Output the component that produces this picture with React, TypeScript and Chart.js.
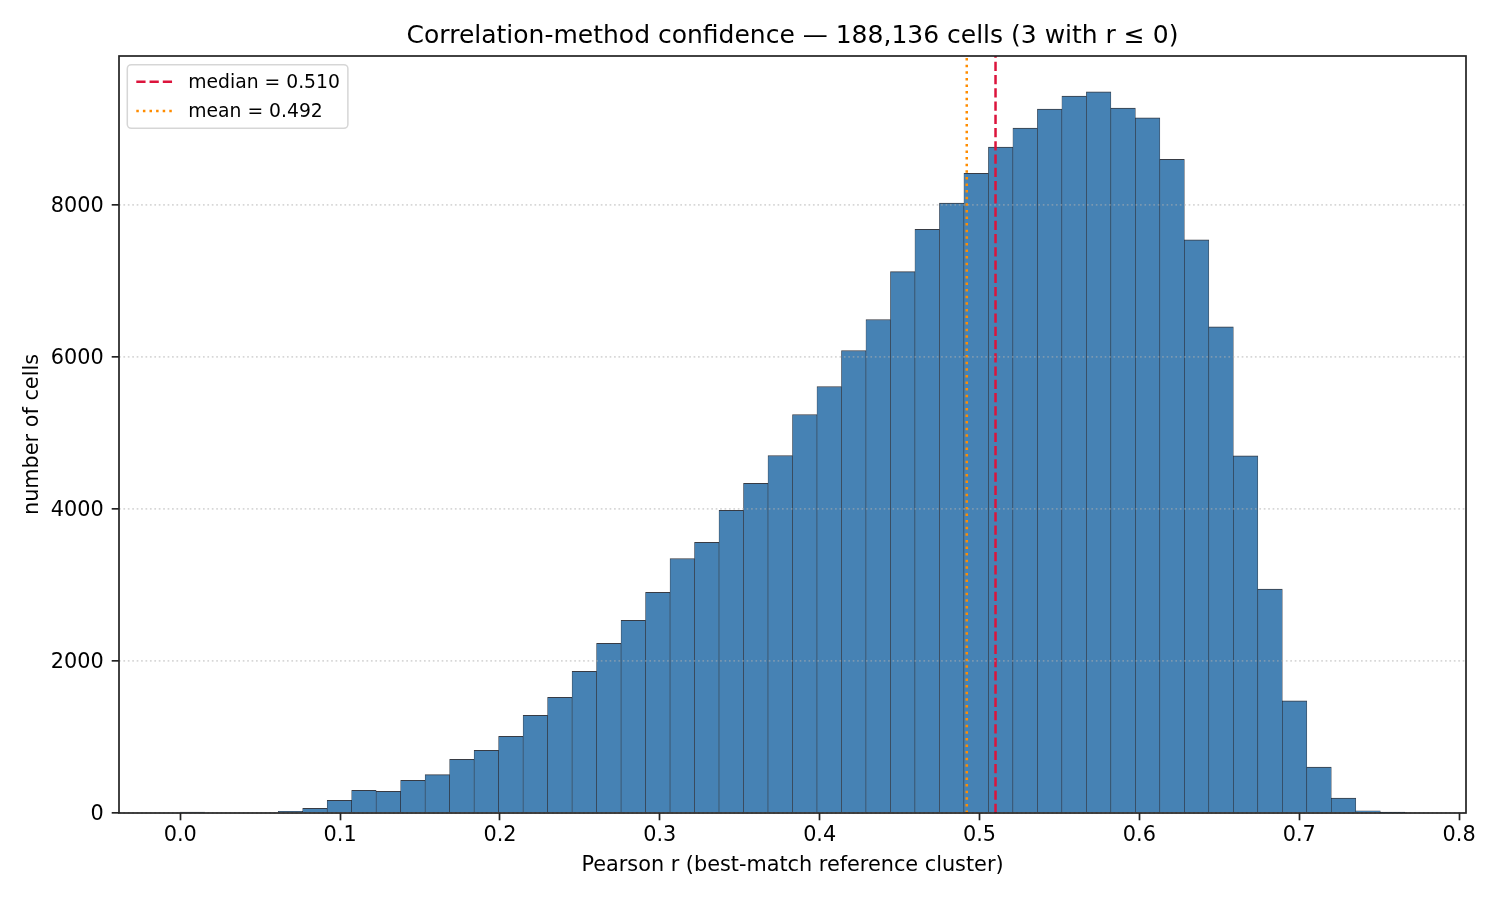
import { useEffect, useRef } from "react";
import { Chart, registerables } from "chart.js";

Chart.register(...registerables);

const TITLE = "Correlation-method confidence — 188,136 cells (3 with r ≤ 0)";
const X_LABEL = "Pearson r (best-match reference cluster)";
const Y_LABEL = "number of cells";

// histogram: 50 equal bins starting at r = 0
const BIN_START = 0.0;
const BIN_WIDTH = 0.01532;
const binCounts = [
  7, 0, 0, 0, 22, 61, 167, 298, 285, 430,
  504, 706, 825, 1009, 1285, 1521, 1863, 2232, 2534, 2902,
  3349, 3560, 3981, 4336, 4704, 5243, 5611, 6085, 6493, 7124,
  7680, 8026, 8417, 8763, 9013, 9263, 9434, 9487, 9276, 9145,
  8601, 7540, 6398, 4700, 2946, 1476, 604, 195, 30, 5,
];

const medianR = 0.51;
const meanR = 0.492;

const xTicks = [0, 0.1, 0.2, 0.3, 0.4, 0.5, 0.6, 0.7, 0.8];
const yTicks = [0, 2000, 4000, 6000, 8000];
const X_MIN = -0.0383;
const X_MAX = 0.8043;
const Y_MAX = 9960;

const FONT = "'DejaVu Sans', sans-serif";
const DASHED = [9.25, 4];
const DOTTED = [2.5, 4.1];

// matplotlib-like frame, title over the axes, legend inside the axes
const axesDecor = {
  id: "axesDecor",
  afterDraw(chart: any) {
    const { ctx, chartArea: a } = chart;
    ctx.save();
    ctx.strokeStyle = "#222";
    ctx.lineWidth = 1.7;
    ctx.setLineDash([]);
    ctx.strokeRect(a.left, a.top, a.right - a.left, a.bottom - a.top);

    ctx.fillStyle = "#000";
    ctx.font = `25px ${FONT}`;
    ctx.textAlign = "center";
    ctx.textBaseline = "alphabetic";
    ctx.fillText(TITLE, (a.left + a.right) / 2, 42.5);

    const items = chart.data.datasets.filter((d: any) => d.type === "line");
    ctx.font = `18.75px ${FONT}`;
    const textW = Math.max(...items.map((d: any) => ctx.measureText(d.label).width));
    const x0 = a.left + 8.3;
    const y0 = a.top + 8.7;
    const w = 61 + textW + 8;
    const h = 63.6;
    ctx.fillStyle = "rgba(255,255,255,0.8)";
    ctx.strokeStyle = "rgba(204,204,204,0.8)";
    ctx.lineWidth = 1.5;
    ctx.beginPath();
    ctx.roundRect(x0, y0, w, h, 4);
    ctx.fill();
    ctx.stroke();
    items.forEach((d: any, i: number) => {
      const y = y0 + 17 + i * 29.4;
      ctx.setLineDash(d.borderDash);
      ctx.strokeStyle = d.borderColor;
      ctx.lineWidth = d.borderWidth;
      ctx.beginPath();
      ctx.moveTo(x0 + 9, y);
      ctx.lineTo(x0 + 45, y);
      ctx.stroke();
      ctx.setLineDash([]);
      ctx.fillStyle = "#000";
      ctx.textBaseline = "alphabetic";
      ctx.textAlign = "left";
      ctx.fillText(d.label, x0 + 61, y + 5.8);
    });
    ctx.restore();
  },
};

export default function App() {
  const canvasRef = useRef<HTMLCanvasElement>(null);

  useEffect(() => {
    if (!canvasRef.current) return;
    const ctx = canvasRef.current.getContext("2d");
    if (!ctx) return;

    const hist = binCounts.map((c, i) => ({ x: BIN_START + (i + 0.5) * BIN_WIDTH, y: c }));

    const chart = new Chart(ctx, {
      type: "bar",
      data: {
        datasets: [
          {
            type: "bar",
            label: "cells",
            data: hist,
            backgroundColor: "#4682b4",
            borderColor: "rgba(20,25,35,0.85)",
            borderWidth: { top: 1, left: 0.6, right: 0.6, bottom: 0 },
            borderSkipped: false,
            barPercentage: 1,
            categoryPercentage: 1,
            order: 2,
          },
          {
            type: "line",
            label: `median = ${medianR.toFixed(3)}`,
            data: [{ x: medianR, y: 0 }, { x: medianR, y: Y_MAX }],
            borderColor: "#dc143c",
            borderWidth: 2.5,
            borderDash: DASHED,
            pointRadius: 0,
            fill: false,
            order: 1,
          },
          {
            type: "line",
            label: `mean = ${meanR.toFixed(3)}`,
            data: [{ x: meanR, y: 0 }, { x: meanR, y: Y_MAX }],
            borderColor: "#ff8c00",
            borderWidth: 2.5,
            borderDash: DOTTED,
            pointRadius: 0,
            fill: false,
            order: 0,
          },
        ],
      } as any,
      options: {
        animation: false,
        responsive: false,
        devicePixelRatio: 1,
        layout: { padding: { left: 0, right: 34, top: 56, bottom: 0 } },
        plugins: {
          legend: { display: false },
          tooltip: { enabled: false },
          title: { display: false },
        },
        scales: {
          x: {
            type: "linear",
            min: X_MIN,
            max: X_MAX,
            offset: false,
            afterBuildTicks: (scale: any) => {
              scale.ticks = xTicks.map((v) => ({ value: v }));
            },
            afterFit: (scale: any) => {
              scale.height = 87;
            },
            ticks: {
              color: "#000",
              font: { family: FONT, size: 20.8, lineHeight: 1.2 },
              padding: 3,
              maxRotation: 0,
              autoSkip: false,
              callback: (v: any) => Number(v).toFixed(1),
            },
            grid: {
              offset: false,
              drawOnChartArea: false,
              drawTicks: true,
              tickLength: 7.3,
              tickWidth: 1.7,
              tickColor: "#222",
            },
            border: { display: false },
            title: {
              display: true,
              text: X_LABEL,
              color: "#000",
              font: { family: FONT, size: 20.8, lineHeight: 1.2 },
              padding: { top: 0, bottom: 22 },
            },
          },
          y: {
            type: "linear",
            min: 0,
            max: Y_MAX,
            afterBuildTicks: (scale: any) => {
              scale.ticks = yTicks.map((v) => ({ value: v }));
            },
            afterFit: (scale: any) => {
              scale.width = 119;
            },
            ticks: {
              color: "#000",
              font: { family: FONT, size: 20.8, lineHeight: 1.2 },
              padding: 8,
              labelOffset: 2,
              autoSkip: false,
              callback: (v: any) => String(v),
            },
            grid: {
              z: 1,
              color: "rgba(176,176,176,0.5)",
              lineWidth: 1.67,
              drawTicks: true,
              tickLength: 7.3,
              tickWidth: 1.7,
              tickColor: "#222",
              tickBorderDash: [],
            },
            border: { display: false, dash: [1.67, 2.75] },
            title: {
              display: true,
              text: Y_LABEL,
              color: "#000",
              font: { family: FONT, size: 20.8, lineHeight: 1.2 },
              padding: { top: 20.5, bottom: 0 },
            },
          },
        },
      },
      plugins: [axesDecor],
    } as any);

    return () => {
      chart.destroy();
    };
  }, []);

  return (
    <div style={{ position: "fixed", left: 0, top: 0, width: 1500, height: 900, background: "#fff" }}>
      <canvas ref={canvasRef} width={1500} height={900} />
    </div>
  );
}
